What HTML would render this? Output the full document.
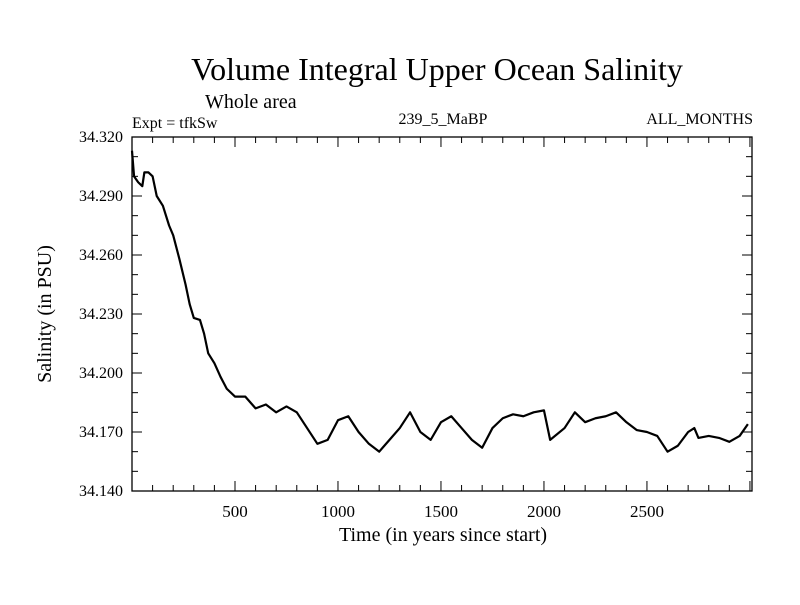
<!DOCTYPE html>
<html><head><meta charset="utf-8"><style>
body{margin:0;background:#fff}
svg text{font-family:"Liberation Serif",serif;fill:#000}
</style></head><body>
<svg id="c" width="800" height="600" xmlns="http://www.w3.org/2000/svg">
<text x="437" y="80" font-size="32" text-anchor="middle">Volume Integral Upper Ocean Salinity</text>
<text x="205" y="108" font-size="20">Whole area</text>
<text x="132" y="128" font-size="16">Expt = tfkSw</text>
<text x="443" y="124" font-size="16" text-anchor="middle">239_5_MaBP</text>
<text x="753" y="124" font-size="16" text-anchor="end">ALL_MONTHS</text>
<text x="443" y="541" font-size="20" text-anchor="middle">Time (in years since start)</text>
<text transform="translate(51,314) rotate(-90)" font-size="20" text-anchor="middle">Salinity (in PSU)</text>
<g id="ax"></g>
<rect x="132" y="137" width="620" height="354" fill="none" stroke="#000" stroke-width="1.3"/>
</svg>
<script>
const years=[0,10,30,50,60,80,100,120,150,180,200,230,260,280,300,330,350,370,400,430,460,500,550,600,650,700,750,800,850,900,950,1000,1050,1100,1150,1200,1250,1300,1350,1400,1450,1500,1550,1600,1650,1700,1750,1800,1850,1900,1950,2000,2030,2100,2150,2200,2250,2300,2350,2400,2450,2500,2550,2600,2650,2700,2730,2750,2800,2850,2900,2950,2990];
const salinity=[34.313,34.300,34.297,34.295,34.302,34.302,34.300,34.290,34.285,34.275,34.270,34.258,34.245,34.235,34.228,34.227,34.220,34.210,34.205,34.198,34.192,34.188,34.188,34.182,34.184,34.180,34.183,34.180,34.172,34.164,34.166,34.176,34.178,34.170,34.164,34.160,34.166,34.172,34.180,34.170,34.166,34.175,34.178,34.172,34.166,34.162,34.172,34.177,34.179,34.178,34.180,34.181,34.166,34.172,34.180,34.175,34.177,34.178,34.180,34.175,34.171,34.170,34.168,34.160,34.163,34.170,34.172,34.167,34.168,34.167,34.165,34.168,34.174];
const xTicks=[500,1000,1500,2000,2500];
const yTicks=["34.140","34.170","34.200","34.230","34.260","34.290","34.320"];
const L=132,R=752,T=137,B=491,X0=0,X1=3010,Y0=34.14,Y1=34.32;
const xs=t=>L+(t-X0)/(X1-X0)*(R-L);
const ys=v=>B-(v-Y0)/(Y1-Y0)*(B-T);
const NS="http://www.w3.org/2000/svg";
const ax=document.getElementById('ax');
function mk(tag,a){const e=document.createElementNS(NS,tag);for(const k in a)e.setAttribute(k,a[k]);ax.appendChild(e);return e;}
for(let t=100;t<3010;t+=100){const maj=t%500===0;const len=maj?10:6;
 const a=mk('line',{x1:xs(t),x2:xs(t),y1:B,y2:B-len,stroke:'#000'});
 
 
 const b=mk('line',{x1:xs(t),x2:xs(t),y1:T,y2:T+len,stroke:'#000'});
 
 }
xTicks.forEach(t=>{const e=mk('text',{x:xs(t),y:517,'font-size':17,'text-anchor':'middle'});e.textContent=t;
 
 });
for(let i=1;i<18;i++){const v=Y0+i*0.01;const maj=i%3===0;const len=maj?10:6;
 const a=mk('line',{x1:L,x2:L+len,y1:ys(v),y2:ys(v),stroke:'#000'});
 
 
 const b=mk('line',{x1:R,x2:R-len,y1:ys(v),y2:ys(v),stroke:'#000'});
 
 }
yTicks.forEach(s=>{const e=mk('text',{x:123,y:ys(+s)+5,'font-size':16,'text-anchor':'end'});e.textContent=s;
 
 });
const p=mk('polyline',{points:years.map((t,i)=>xs(t)+','+ys(salinity[i])).join(' '),fill:'none',stroke:'#000','stroke-width':2.2,'stroke-linejoin':'round'});


</script>
</body></html>
